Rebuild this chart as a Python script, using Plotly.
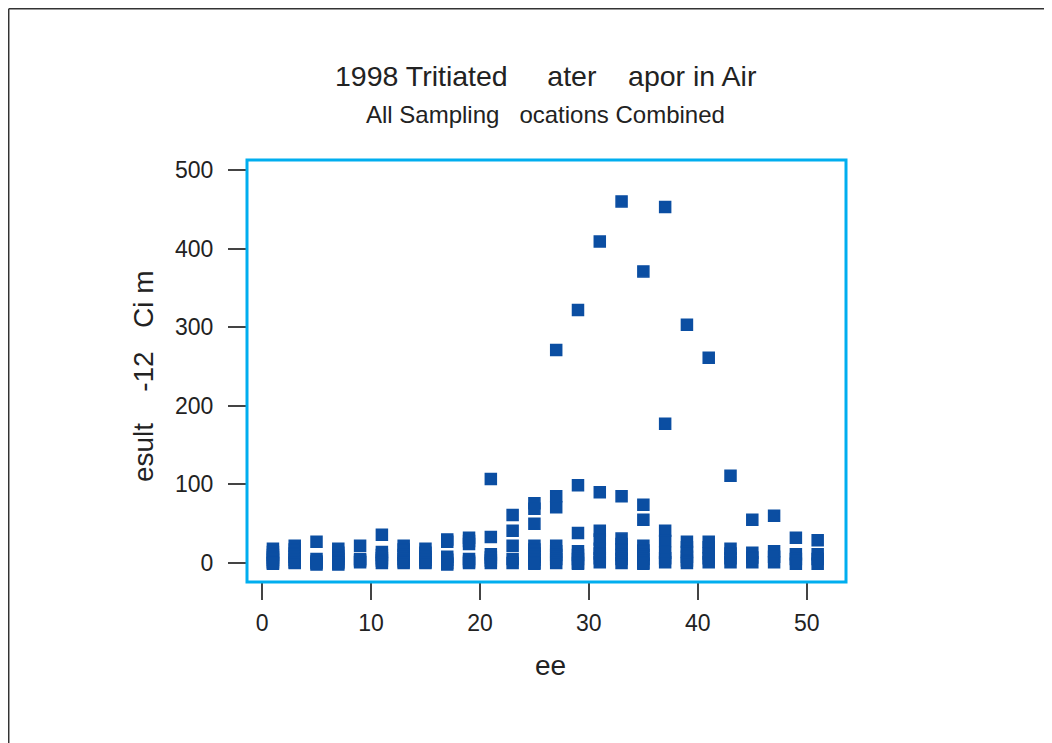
import plotly.graph_objects as go

# sampling weeks (odd weeks only) and results per week, all locations pooled
weeks = [1, 3, 5, 7, 9, 11, 13, 15, 17, 19, 21, 23, 25,
         27, 29, 31, 33, 35, 37, 39, 41, 43, 45, 47, 49, 51]

results = [
    [18, 14, 10, 7, 4, 2, 0, -1],               # 1
    [22, 17, 12, 8, 4, 1, 0],                   # 3
    [27, 5, 2, 0, -2],                          # 5
    [18, 13, 9, 5, 2, 0, -2],                   # 7
    [22, 5, 3, 1],                              # 9
    [36, 14, 10, 6, 3, 0],                      # 11
    [22, 17, 10, 5, 2, 0],                      # 13
    [18, 13, 8, 4, 1, 0],                       # 15
    [30, 27, 8, 4, 0, -2],                      # 17
    [32, 28, 24, 5, 2, 0],                      # 19
    [107, 33, 11, 7, 3, 0],                     # 21
    [61, 41, 22, 5, 0],                         # 23
    [76, 69, 50, 22, 17, 12, 8, 4, 0, -1],      # 25
    [271, 85, 71, 22, 15, 10, 5, 0],            # 27
    [322, 99, 38, 15, 10, 5, 0, -1],            # 29
    [409, 90, 41, 30, 18, 12, 6, 1],            # 31
    [460, 85, 31, 24, 17, 10, 5, 0],            # 33
    [371, 74, 55, 22, 16, 10, 5, 0, -1],        # 35
    [453, 177, 41, 28, 13, 6, 1],               # 37
    [303, 27, 20, 14, 8, 3, 0],                 # 39
    [261, 27, 20, 12, 6, 1],                    # 41
    [111, 18, 12, 6, 1],                        # 43
    [55, 13, 7, 1],                             # 45
    [60, 15, 8, 1],                             # 47
    [32, 11, 5, -1],                            # 49
    [29, 11, 5, -1],                            # 51
]

x_ticks = [0, 10, 20, 30, 40, 50]
y_ticks = [0, 100, 200, 300, 400, 500]

xs, ys = [], []
for w, vals in zip(weeks, results):
    for v in vals:
        xs.append(w)
        ys.append(v)

FONT = "Liberation Sans, Arial, sans-serif"
NB = "\u00a0"

fig = go.Figure()
fig.add_trace(go.Scatter(
    x=xs, y=ys, mode="markers",
    marker=dict(symbol="square", size=11, color="#0B4EA2",
                line=dict(color="#0B4EA2", width=1.5)),
    showlegend=False, hoverinfo="x+y",
))

fig.update_layout(
    width=1052, height=743,
    margin=dict(l=239, r=214, t=152, b=169),
    paper_bgcolor="white", plot_bgcolor="white",
    font=dict(family=FONT, color="#222222"),
    xaxis=dict(range=[-1.38, 53.6], tickvals=x_ticks, showgrid=False,
               zeroline=False, showline=False, ticks="outside", ticklen=17,
               tickwidth=1.5, tickcolor="#444444", tickfont=dict(size=23),
               ticklabelstandoff=3),
    yaxis=dict(range=[-24.2, 512.7], tickvals=y_ticks, showgrid=False,
               zeroline=False, showline=False, ticks="outside", ticklen=18,
               tickwidth=1.5, tickcolor="#444444", tickfont=dict(size=23),
               ticklabelstandoff=10),
)

# plot frame
fig.add_shape(type="rect", xref="paper", yref="paper", x0=0, x1=1, y0=0, y1=1,
              line=dict(color="#00AEEF", width=3), layer="above")
# page border (top and left)
fig.add_shape(type="line", xref="paper", yref="paper", x0=-0.3978, x1=1.4,
              y0=1.3584, y1=1.3584, line=dict(color="#333333", width=1.5))
fig.add_shape(type="line", xref="paper", yref="paper", x0=-0.3978, x1=-0.3978,
              y0=1.3584, y1=-0.45, line=dict(color="#333333", width=1.5))

fig.add_annotation(text="1998 Tritiated" + NB * 5 + "ater" + NB * 4 + "apor in Air",
                   xref="paper", yref="paper", x=0.499, y=1.199,
                   showarrow=False, font=dict(size=28.5), yanchor="middle")
fig.add_annotation(text="All Sampling" + NB * 3 + "ocations Combined",
                   xref="paper", yref="paper", x=0.499, y=1.109,
                   showarrow=False, font=dict(size=24), yanchor="middle")
fig.add_annotation(text="esult" + NB * 4 + "-12" + NB * 3 + "Ci m",
                   xref="paper", yref="paper", x=-0.1736, y=0.488,
                   textangle=-90, showarrow=False, font=dict(size=28),
                   xanchor="center", yanchor="middle")
fig.add_annotation(text="ee", xref="paper", yref="paper", x=0.5075, y=-0.199,
                   showarrow=False, font=dict(size=28), yanchor="middle")

fig.write_html("out.html")
